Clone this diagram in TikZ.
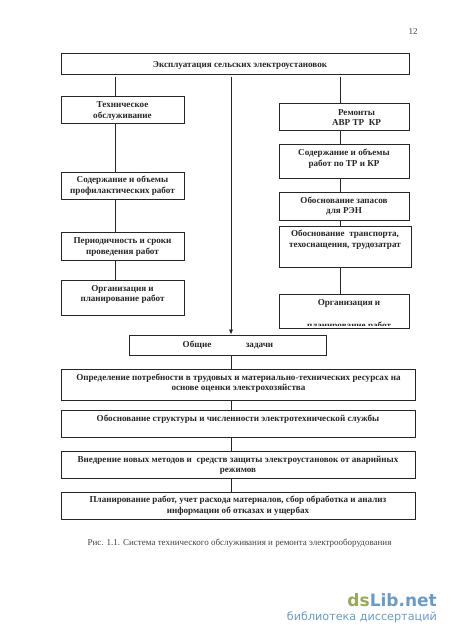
\documentclass[tikz,border=0pt]{standalone}
\usepackage{fontspec}
\usetikzlibrary{arrows.meta}
\setmainfont{Liberation Serif}
\newfontfamily\wmfont{DejaVu Sans}
\definecolor{wmgreen}{RGB}{150,170,90}
\definecolor{wmblue}{RGB}{105,155,200}
\definecolor{ln}{gray}{0.15}
\tikzset{
  boxn/.style={draw=ln,line width=0.9pt,inner sep=0pt,anchor=north west},
  txt/.style={font=\fontsize{9.1}{10.8}\selectfont\bfseries,align=center,inner sep=0pt,text=black!85},
  plain/.style={font=\fontsize{9}{10}\selectfont,inner sep=0pt,text=black!75},
  link/.style={draw=ln,line width=0.9pt},
}
\newcommand{\bx}[5]{\node[boxn,minimum width=#4 pt-#2 pt,minimum height=#5 pt-#3 pt] (#1) at (#2,#3) {};}
\begin{document}
\begin{tikzpicture}[x=1pt,y=-1pt]
\useasboundingbox (0,0) rectangle (450,637);
\coordinate (lx) at (115,0);
\coordinate (cx) at (231,0);
\coordinate (rx) at (340,0);
\bx{top}{61}{53}{409}{73.5}
\bx{la}{61}{96}{184}{123}
\bx{lb}{61}{171.5}{184}{198.5}
\bx{lc}{61}{232}{184}{260}
\bx{ld}{61}{280}{184}{314.5}
\bx{ra}{279}{103}{409}{130}
\bx{rb}{279}{144}{409}{178}
\bx{rc}{279}{192}{409}{219.5}
\bx{rd}{279}{226}{410.5}{267}
\bx{re}{279}{294}{409}{328}
\bx{gen}{129}{334.5}{326}{355}
\bx{ga}{61}{369}{415}{399.5}
\bx{gb}{61}{410}{415}{437}
\bx{gc}{61}{451}{415}{478}
\bx{gd}{61}{492}{415}{519}
\node[txt] (ttop) at (240,65) {Эксплуатация сельских электроустановок};
\node[txt] (tla) at (122.5,111) {Техническое\\обслуживание};
\node[txt] (tlb) at (122.5,185.5) {Содержание и объемы\\профилактических работ};
\node[txt] (tlc) at (122.5,247) {Периодичность и сроки\\проведения работ};
\node[txt] (tld) at (122.5,294.5) {Организация и\\планирование работ};
\node[txt] (tra) at (356.5,117.5) {Ремонты\\АВР ТР~~КР};
\node[txt] (trb) at (344,158.5) {Содержание и объемы\\работ по ТР и КР};
\node[txt] (trc) at (344,206) {Обоснование запасов\\для РЭН};
\node[txt] (trd) at (345,240) {Обоснование~~транспорта,\\техоснащения, трудозатрат};
\begin{scope}
\clip (280,295) rectangle (408,325.8);
\node[txt] (tre1) at (349,303) {Организация и};
\node[txt] (tre2) at (349,326) {планирование работ};
\end{scope}
\node[txt,anchor=base] (tg1) at (197,347) {Общие};
\node[txt,anchor=base] (tg2) at (259.5,347) {задачи};
\node[txt] (tga) at (238.5,383.3) {Определение потребности в трудовых и материально-технических ресурсах на\\основе оценки электрохозяйства};
\node[txt] (tgb) at (238,419) {Обоснование структуры и численности электротехнической службы};
\node[txt] (tgc) at (238,465.3) {Внедрение новых методов и~~средств защиты электроустановок от аварийных\\режимов};
\node[txt] (tgd) at (238,506) {Планирование работ, учет расхода материалов, сбор обработка и анализ\\информации об отказах и ущербах};
\node[plain] (page) at (413,32) {12};
\node[plain] (cap) at (239.5,543) {Рис. 1.1. Система технического обслуживания и ремонта электрооборудования};
\draw[link] ([yshift=-2.5pt]top.south -| lx) -- (la.north -| lx);
\draw[link] (la.south -| lx) -- (lb.north -| lx);
\draw[link] (lb.south -| lx) -- (lc.north -| lx);
\draw[link] (lc.south -| lx) -- (ld.north -| lx);
\draw[link] ([yshift=-2.5pt]top.south -| rx) -- (ra.north -| rx);
\draw[link] (ra.south -| rx) -- (rb.north -| rx);
\draw[link] (rb.south -| rx) -- (rc.north -| rx);
\draw[link] (rc.south -| rx) -- (rd.north -| rx);
\draw[link] (rd.south -| rx) -- (re.north -| rx);
\draw[link,-{Latex[length=5pt,width=4.5pt]}] ([yshift=-2.5pt]top.south -| cx) -- (gen.north -| cx);
\draw[link] (gen.south -| cx) -- (ga.north -| cx);
\draw[link] (ga.south -| cx) -- (gb.north -| cx);
\draw[link] (gb.south -| cx) -- (gc.north -| cx);
\draw[link] (gc.south -| cx) -- (gd.north -| cx);
\node[font=\wmfont\bfseries\fontsize{17}{17}\selectfont,inner sep=0pt,anchor=base east] (wm) at (437,606) {\textcolor{wmgreen}{ds}\textcolor{wmblue}{Lib.net}};
\node[font=\wmfont\fontsize{11.2}{12}\selectfont,inner sep=0pt,anchor=base east,text=wmblue] (wm2) at (437,620) {библиотека диссертаций};
\end{tikzpicture}
\end{document}
